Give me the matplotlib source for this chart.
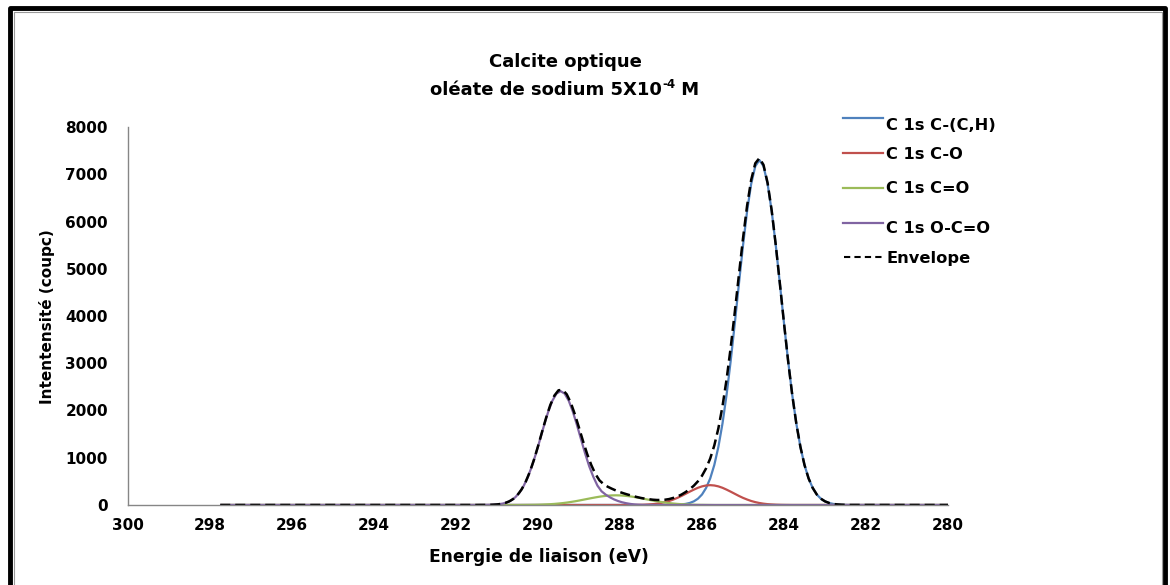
import numpy as np
import matplotlib
matplotlib.use("Agg")
import matplotlib.pyplot as plt
from matplotlib.lines import Line2D

plt.rcParams['font.family'] = ['DejaVu Sans']
plt.rcParams['font.weight'] = 'bold'

W, H = 1170, 585

# bornes du balayage (eV)
ev_start, ev_end = 297.75, 280.0

# composantes C 1s, pas de 0.1 eV
ev_cch = np.round(np.arange(286.8, 282.35, -0.1), 2)
cps_cch = [1, 3, 6, 12, 23, 43, 77, 133, 222, 361, 562, 847, 1231, 1726, 2337,
           3051, 3847, 4678, 5491, 6219, 6798, 7171, 7300, 7171, 6798, 6219,
           5491, 4678, 3847, 3051, 2337, 1726, 1231, 847, 562, 361, 222, 133,
           77, 43, 23, 12, 6, 3, 1]

ev_co = np.round(np.arange(287.8, 283.75, -0.1), 2)
cps_co = [0, 1, 2, 4, 7, 12, 18, 28, 42, 61, 85, 116, 151, 192, 237, 282, 325,
          364, 394, 413, 420, 413, 394, 364, 325, 282, 237, 192, 151, 116, 85,
          61, 42, 28, 18, 12, 7, 4, 2, 1, 0]

ev_c_o = np.round(np.arange(290.5, 285.65, -0.1), 2)
cps_c_o = [0, 1, 2, 3, 4, 6, 9, 13, 17, 23, 31, 40, 51, 64, 78, 94, 111, 128,
           145, 161, 176, 188, 197, 203, 205, 203, 197, 188, 176, 161, 145,
           128, 111, 94, 78, 64, 51, 40, 31, 23, 17, 13, 9, 6, 4, 3, 2, 1, 0]

ev_oco = np.round(np.arange(291.45, 287.40, -0.1), 2)
cps_oco = [0, 1, 2, 4, 8, 17, 32, 58, 100, 167, 265, 403, 587, 817, 1089, 1388,
           1693, 1976, 2206, 2357, 2410, 2357, 2206, 1976, 1693, 1388, 1089,
           817, 595, 410, 290, 220, 165, 120, 85, 58, 38, 23, 12, 5, 0]

ev_env = np.round(np.arange(291.5, 282.35, -0.1), 2)
cps_env = [0, 1, 1, 3, 6, 12, 23, 43, 77, 130, 212, 330, 491, 700, 953, 1242,
           1551, 1852, 2117, 2316, 2428, 2437, 2344, 2164, 1917, 1636, 1347,
           1077, 845, 656, 521, 441, 387, 345, 307, 273, 244, 218, 194, 171,
           151, 135, 123, 112, 106, 106, 112, 126, 150, 180, 221, 273, 334,
           408, 501, 619, 776, 983, 1260, 1625, 2090, 2662, 3333, 4084, 4870,
           5642, 6335, 6883, 7232, 7342, 7199, 6816, 6231, 5498, 4682, 3849,
           3052, 2337, 1726, 1231, 847, 562, 361, 222, 133, 77, 43, 23, 12, 6,
           3, 1]

labels = ["C 1s C-(C,H)", "C 1s C-O", "C 1s C=O", "C 1s O-C=O", "Envelope"]
colors = ["#4F81BD", "#C0504D", "#9BBB59", "#8064A2", "black"]

x_ticks = list(range(300, 279, -2))
y_ticks = list(range(0, 8001, 1000))


def full(ev, cps):
    # ajoute la ligne de base sur toute la plage mesurée
    return [ev_start] + list(ev) + [ev_end], [0] + list(cps) + [0]


def fx(px):
    return px / W


def fy(py):
    return 1 - py / H


fig = plt.figure(figsize=(W / 100, H / 100), dpi=100)
ax = fig.add_axes([fx(128), fy(505), (948 - 128) / W, (505 - 127) / H])

series = [(ev_cch, cps_cch), (ev_co, cps_co), (ev_c_o, cps_c_o), (ev_oco, cps_oco)]
for (ev, cps), c in zip(series, colors[:4]):
    xs, ys = full(ev, cps)
    ax.plot(xs, ys, color=c, lw=1.6, solid_capstyle='butt')

xs, ys = full(ev_env, cps_env)
ax.plot(xs, ys, color='black', lw=1.8, dashes=(4, 2))

ax.set_xlim(300, 280)
ax.set_ylim(0, 8000)
ax.set_xticks(x_ticks)
ax.set_xticklabels([str(v) for v in x_ticks])
ax.set_yticks(y_ticks)
ax.set_yticklabels([str(v) for v in y_ticks])
ax.tick_params(length=0, labelsize=11)
ax.tick_params(axis='x', pad=9)
ax.tick_params(axis='y', pad=14.4)
for s in ['top', 'right']:
    ax.spines[s].set_visible(False)
for s in ['left', 'bottom']:
    ax.spines[s].set_color('#868686')
    ax.spines[s].set_linewidth(1.0)

fig.text(fx(539), fy(557), "Energie de liaison (eV)", ha='center', va='center',
         fontsize=12.3)
fig.text(fx(47), fy(317), "Intentensité (coupc)", ha='center', va='center',
         rotation=90, fontsize=11)

# titre sur deux lignes, exposant posé à la main
fig.text(fx(565), fy(62), "Calcite optique", ha='center', va='center', fontsize=13)
r = fig.canvas.get_renderer()
parts = [("oléate de sodium 5X10", 13, 0), ("-4", 8.5, 5.5), (" M", 13, 0)]
arts = [fig.text(0, 0, t, fontsize=s, va='center') for t, s, _ in parts]
widths = [a.get_window_extent(r).width for a in arts]
x0 = 565 - sum(widths) / 2
for a, w, (_, _, dy) in zip(arts, widths, parts):
    a.set_position((fx(x0), fy(90 - dy)))
    x0 += w

# légende
leg_line_y = [118, 152.5, 187.5, 223, 256.5]
leg_text_y = [126, 154.5, 188.5, 229, 259]
for lab, c, ly, ty in zip(labels, colors, leg_line_y, leg_text_y):
    if c == 'black':
        fig.add_artist(Line2D([fx(844), fx(883)], [fy(ly)] * 2, color=c, lw=1.5,
                              dashes=(3, 2)))
    else:
        fig.add_artist(Line2D([fx(843), fx(883)], [fy(ly)] * 2, color=c, lw=1.6))
    fig.text(fx(886), fy(ty), lab, ha='left', va='center', fontsize=11.7)

# cadre
fig.add_artist(Line2D([fx(10), fx(10), fx(1165), fx(1165)],
                      [fy(600), fy(8), fy(8), fy(600)], color='black', lw=3.5))
fig.add_artist(Line2D([fx(13.5), fx(13.5), fx(1162), fx(1162)],
                      [fy(600), fy(11.5), fy(11.5), fy(600)], color='#9a9a9a', lw=0.8))

fig.savefig("out.png", dpi=100)
